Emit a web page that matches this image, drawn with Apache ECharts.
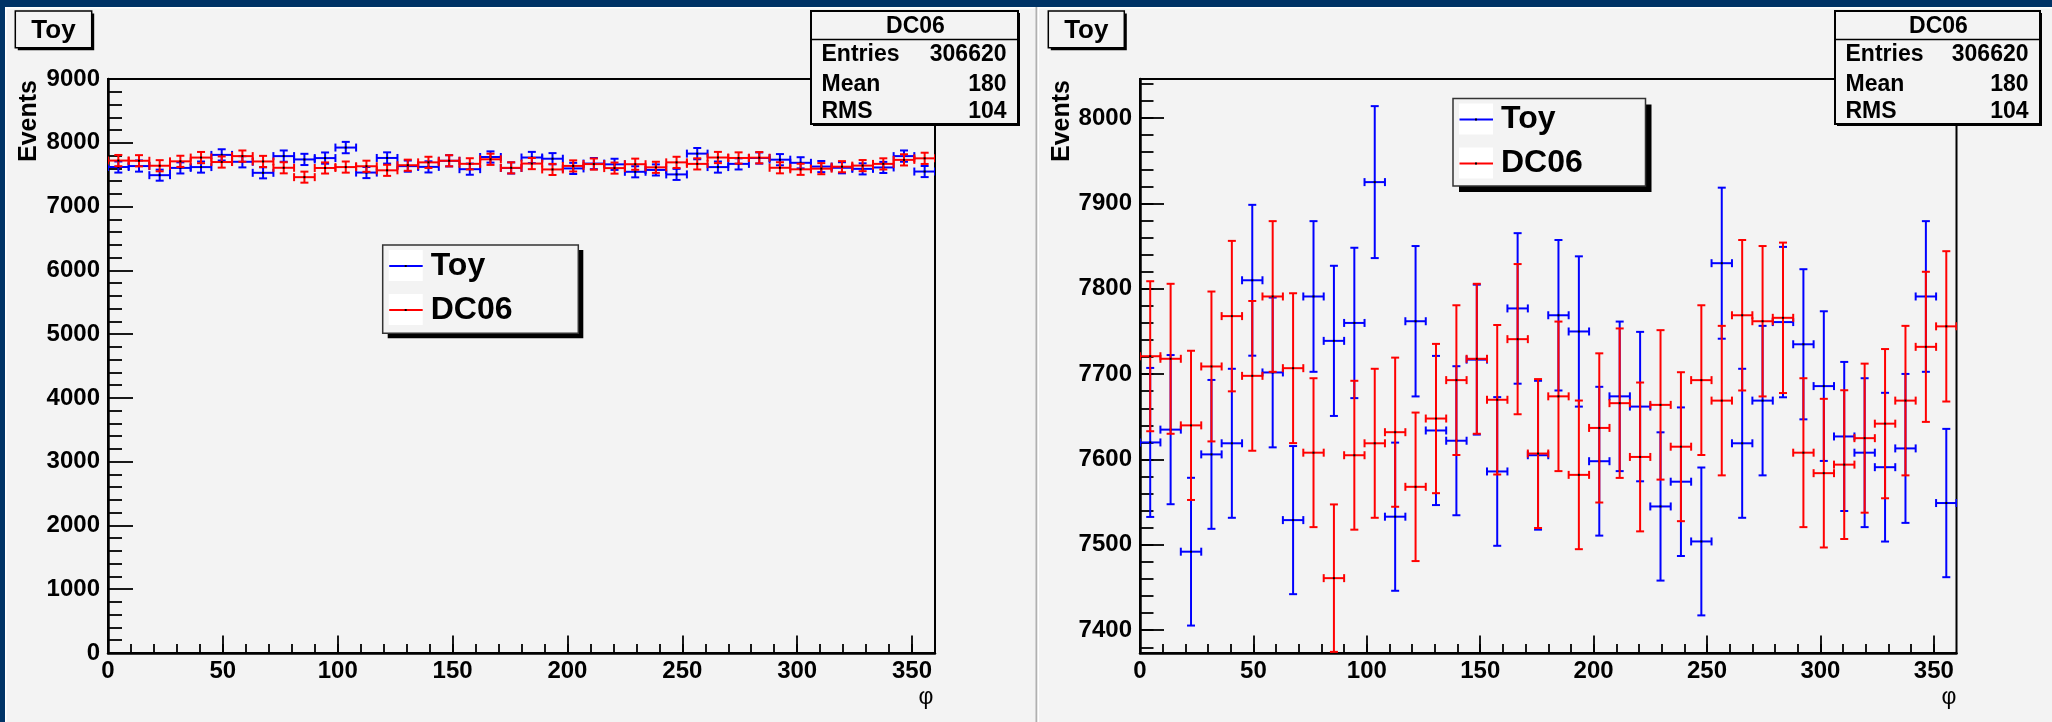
<!DOCTYPE html>
<html>
<head>
<meta charset="utf-8">
<title>Toy vs DC06 - phi</title>
<script src="https://cdn.jsdelivr.net/npm/echarts@6/dist/echarts.min.js"></script>
<style>
  html, body { margin: 0; padding: 0; background: #f3f3f3; }
  #chart { width: 2052px; height: 722px; }
</style>
</head>
<body>
<div id="chart"></div>
<script>
// 40 bins of 9 degrees in phi
const binWidth = 9;
const binCenters = [
  4.5, 13.5, 22.5, 31.5, 40.5, 49.5, 58.5, 67.5, 76.5, 85.5,
  94.5, 103.5, 112.5, 121.5, 130.5, 139.5, 148.5, 157.5, 166.5, 175.5,
  184.5, 193.5, 202.5, 211.5, 220.5, 229.5, 238.5, 247.5, 256.5, 265.5,
  274.5, 283.5, 292.5, 301.5, 310.5, 319.5, 328.5, 337.5, 346.5, 355.5
];
const toyCounts = [
  7620, 7635, 7492, 7606, 7619, 7810, 7702, 7529, 7791, 7739,
  7760, 7925, 7533, 7762, 7634, 7622, 7717, 7586, 7777, 7605,
  7769, 7750, 7598, 7674, 7662, 7545, 7574, 7504, 7830, 7619,
  7669, 7761, 7735, 7686, 7627, 7608, 7591, 7613, 7791, 7549
];
const dc06Counts = [
  7721, 7718, 7640, 7709, 7768, 7698, 7791, 7707, 7608, 7461,
  7605, 7619, 7632, 7568, 7648, 7693, 7718, 7670, 7741, 7607,
  7674, 7582, 7637, 7666, 7603, 7664, 7615, 7693, 7669, 7769,
  7762, 7766, 7608, 7584, 7594, 7625, 7642, 7669, 7732, 7756
];
const xMajorTicks = [0, 50, 100, 150, 200, 250, 300, 350];
const yMajorTicksZoom = [7400, 7500, 7600, 7700, 7800, 7900, 8000];
const statsNames = ["Entries", "Mean", "RMS"];
const statsValues = ["306620", "180", "104"];
const legendNames = ["Toy", "DC06"];
const legendColors = ["#0000ff", "#ff0000"];

// minor ticks (no labels)
const xMinorTicks = [];
for (let v = 10; v < 360; v += 10) xMinorTicks.push(v);
const yMinorTicksZoom = [];
for (let v = 7380; v <= 8040; v += 20) yMinorTicksZoom.push(v);

const FONT = "'Liberation Sans', Arial, Helvetica, sans-serif";
const PAD = "#f3f3f3";

const toyData = binCenters.map((x, i) => [x, toyCounts[i]]);
const dc06Data = binCenters.map((x, i) => [x, dc06Counts[i]]);

const chart = echarts.init(document.getElementById("chart"), null, { renderer: "canvas" });

// ROOT style E1 error bars: full bin width, sqrt(N) vertical, with end caps
function errorBarItem(params, api) {
  const x = api.value(0);
  const n = api.value(1);
  const err = Math.sqrt(n);
  const c = api.coord([x, n]);
  const l = api.coord([x - binWidth / 2, n]);
  const r = api.coord([x + binWidth / 2, n]);
  const t = api.coord([x, n + err]);
  const b = api.coord([x, n - err]);
  const color = api.visual("color");
  const cap = 4;
  const seg = (x1, y1, x2, y2) => ({
    type: "line",
    shape: { x1, y1, x2, y2 },
    style: { stroke: color, lineWidth: 2 }
  });
  return {
    type: "group",
    children: [
      seg(l[0], c[1], r[0], c[1]),
      seg(c[0], t[1], c[0], b[1]),
      seg(c[0] - cap, t[1], c[0] + cap, t[1]),
      seg(c[0] - cap, b[1], c[0] + cap, b[1]),
      seg(l[0], c[1] - cap, l[0], c[1] + cap),
      seg(r[0], c[1] - cap, r[0], c[1] + cap),
      { type: "rect", shape: { x: c[0] - 1, y: c[1] - 1, width: 2, height: 2 }, style: { fill: "#000" } }
    ]
  };
}

function txt(text, x, y, size, align, weight, z) {
  return {
    type: "text", x, y, z: z || 110, silent: true,
    style: {
      text, fill: "#000", fontSize: size, fontWeight: weight || "bold",
      fontFamily: FONT, align: align || "left", verticalAlign: "middle"
    }
  };
}

function titleBox(x, y, w, h) {
  return [
    { type: "rect", z: 100, shape: { x: x + 2.5, y: y + 2.5, width: w, height: h }, style: { fill: "#000" } },
    { type: "rect", z: 101, shape: { x, y, width: w, height: h }, style: { fill: PAD, stroke: "#000", lineWidth: 1.5 } },
    txt("Toy", x + w / 2, y + h / 2 + 1, 26, "center")
  ];
}

function statsBox(x, y, w, h) {
  const headH = 28.5;
  const rowY = [44, 73.5, 101];
  const els = [
    { type: "rect", z: 100, shape: { x: x + 2, y: y + 2, width: w, height: h }, style: { fill: "#000" } },
    { type: "rect", z: 101, shape: { x, y, width: w, height: h }, style: { fill: PAD, stroke: "#000", lineWidth: 2 } },
    { type: "line", z: 102, shape: { x1: x, y1: y + headH, x2: x + w, y2: y + headH }, style: { stroke: "#000", lineWidth: 1.5 } },
    txt("DC06", x + w / 2 + 1, y + headH / 2 + 1, 23, "center")
  ];
  statsNames.forEach((name, i) => {
    els.push(txt(name, x + 10.5, y + rowY[i], 23, "left"));
    els.push(txt(statsValues[i], x + w - 11.5, y + rowY[i], 23, "right"));
  });
  return els;
}

function legendBox(x, y, w, h, shadow) {
  const els = [
    { type: "rect", z: 100, shape: { x: x + shadow, y: y + shadow, width: w, height: h }, style: { fill: "#000" } },
    { type: "rect", z: 101, shape: { x, y, width: w, height: h }, style: { fill: PAD, stroke: "#333", lineWidth: 1.5 } }
  ];
  const rowY = [21, 65];
  legendNames.forEach((name, i) => {
    const cy = y + rowY[i];
    els.push({ type: "rect", z: 102, shape: { x: x + 6, y: cy - 16, width: 34, height: 31 }, style: { fill: "#fff" } });
    els.push({ type: "line", z: 103, shape: { x1: x + 6.5, y1: cy, x2: x + 40, y2: cy }, style: { stroke: legendColors[i], lineWidth: 2 } });
    els.push({ type: "rect", z: 104, shape: { x: x + 22, y: cy - 1, width: 2, height: 2 }, style: { fill: "#000" } });
    els.push(txt(name, x + 48, cy, 32, "left"));
  });
  return els;
}

function eventsTitle(x) {
  return {
    type: "text", x, y: 80, rotation: Math.PI / 2, z: 110, silent: true,
    style: { text: "Events", fill: "#000", fontSize: 25, fontWeight: "bold", fontFamily: FONT, align: "right", verticalAlign: "middle" }
  };
}

const grids = [
  { left: 108, top: 79, width: 827, height: 574 },
  { left: 1140, top: 79, width: 816.5, height: 574 }
];

const labelStyle = {
  color: "#000", fontSize: 24, fontWeight: "bold", fontFamily: FONT,
  formatter: v => String(v)
};

function xAxisPair(gridIndex) {
  return [
    {
      type: "value", gridIndex, min: 0, max: 360, position: "bottom",
      axisLine: { show: true, onZero: false, lineStyle: { color: "#000", width: 2.5 } },
      axisTick: { show: true, inside: true, length: 17.5, customValues: xMajorTicks, lineStyle: { color: "#000", width: 1.8 } },
      axisLabel: Object.assign({ margin: 6, customValues: xMajorTicks }, labelStyle),
      splitLine: { show: false }
    },
    {
      type: "value", gridIndex, min: 0, max: 360, position: "bottom",
      axisLine: { show: false, onZero: false },
      axisTick: { show: true, inside: true, length: 9, customValues: xMinorTicks, lineStyle: { color: "#000", width: 1.8 } },
      axisLabel: { show: false },
      splitLine: { show: false }
    }
  ];
}

const option = {
  animation: false,
  backgroundColor: PAD,
  grid: grids.map(g => Object.assign({ show: true, borderColor: "#000", borderWidth: 2, backgroundColor: "transparent", containLabel: false, outerBoundsMode: "none" }, g)),
  xAxis: [...xAxisPair(0), ...xAxisPair(1)],
  yAxis: [
    {
      type: "value", gridIndex: 0, min: 0, max: 9000, interval: 1000, position: "left",
      axisLine: { show: true, onZero: false, lineStyle: { color: "#000", width: 2.5 } },
      axisTick: { show: true, inside: true, length: 25, lineStyle: { color: "#000", width: 1.8 } },
      minorTick: { show: true, splitNumber: 5, length: 14, lineStyle: { color: "#000", width: 1.8 } },
      axisLabel: Object.assign({ margin: 8 }, labelStyle),
      splitLine: { show: false }
    },
    {
      type: "value", gridIndex: 1, min: 7373.3, max: 8045.8, position: "left",
      axisLine: { show: true, onZero: false, lineStyle: { color: "#000", width: 2.5 } },
      axisTick: { show: true, inside: true, length: 24, customValues: yMajorTicksZoom, lineStyle: { color: "#000", width: 1.8 } },
      axisLabel: Object.assign({ margin: 8, customValues: yMajorTicksZoom }, labelStyle),
      splitLine: { show: false }
    },
    {
      type: "value", gridIndex: 1, min: 7373.3, max: 8045.8, position: "left",
      axisLine: { show: false, onZero: false },
      axisTick: { show: true, inside: true, length: 13.5, customValues: yMinorTicksZoom, lineStyle: { color: "#000", width: 1.8 } },
      axisLabel: { show: false },
      splitLine: { show: false }
    }
  ],
  series: [
    { name: "Toy", type: "custom", xAxisIndex: 0, yAxisIndex: 0, renderItem: errorBarItem, clip: true, silent: true, itemStyle: { color: legendColors[0] }, encode: { x: 0, y: 1 }, data: toyData },
    { name: "DC06", type: "custom", xAxisIndex: 0, yAxisIndex: 0, renderItem: errorBarItem, clip: true, silent: true, itemStyle: { color: legendColors[1] }, encode: { x: 0, y: 1 }, data: dc06Data },
    { name: "Toy", type: "custom", xAxisIndex: 2, yAxisIndex: 1, renderItem: errorBarItem, clip: true, silent: true, itemStyle: { color: legendColors[0] }, encode: { x: 0, y: 1 }, data: toyData },
    { name: "DC06", type: "custom", xAxisIndex: 2, yAxisIndex: 1, renderItem: errorBarItem, clip: true, silent: true, itemStyle: { color: legendColors[1] }, encode: { x: 0, y: 1 }, data: dc06Data }
  ],
  graphic: [
    // canvas frame and pad borders
    { type: "rect", z: 120, silent: true, shape: { x: 0, y: 0, width: 2052, height: 7 }, style: { fill: "#003366" } },
    { type: "rect", z: 120, silent: true, shape: { x: 0, y: 0, width: 5, height: 722 }, style: { fill: "#003366" } },
    { type: "rect", z: 119, silent: true, shape: { x: 5, y: 7, width: 2047, height: 1.5 }, style: { fill: "#ffffff" } },
    { type: "rect", z: 119, silent: true, shape: { x: 5, y: 7, width: 1.5, height: 715 }, style: { fill: "#ffffff" } },
    { type: "rect", z: 119, silent: true, shape: { x: 1035.5, y: 7, width: 2, height: 715 }, style: { fill: "#b0b0b0" } },
    { type: "rect", z: 119, silent: true, shape: { x: 1037.5, y: 7, width: 1.5, height: 715 }, style: { fill: "#ffffff" } },
    ...titleBox(15.3, 11, 76.4, 36.7),
    ...titleBox(1048.3, 11, 76, 36.7),
    ...statsBox(811, 11, 207, 113),
    ...statsBox(1835, 11, 205, 113),
    ...legendBox(382.7, 245, 195.6, 88.3, 5),
    ...legendBox(1453, 98.4, 192.5, 87.6, 6),
    eventsTitle(29),
    eventsTitle(1062),
    txt("φ", 926, 698, 23, "center", "normal"),
    txt("φ", 1949, 698, 23, "center", "normal")
  ]
};

chart.setOption(option);
window.addEventListener("resize", () => chart.resize());
</script>
</body>
</html>
